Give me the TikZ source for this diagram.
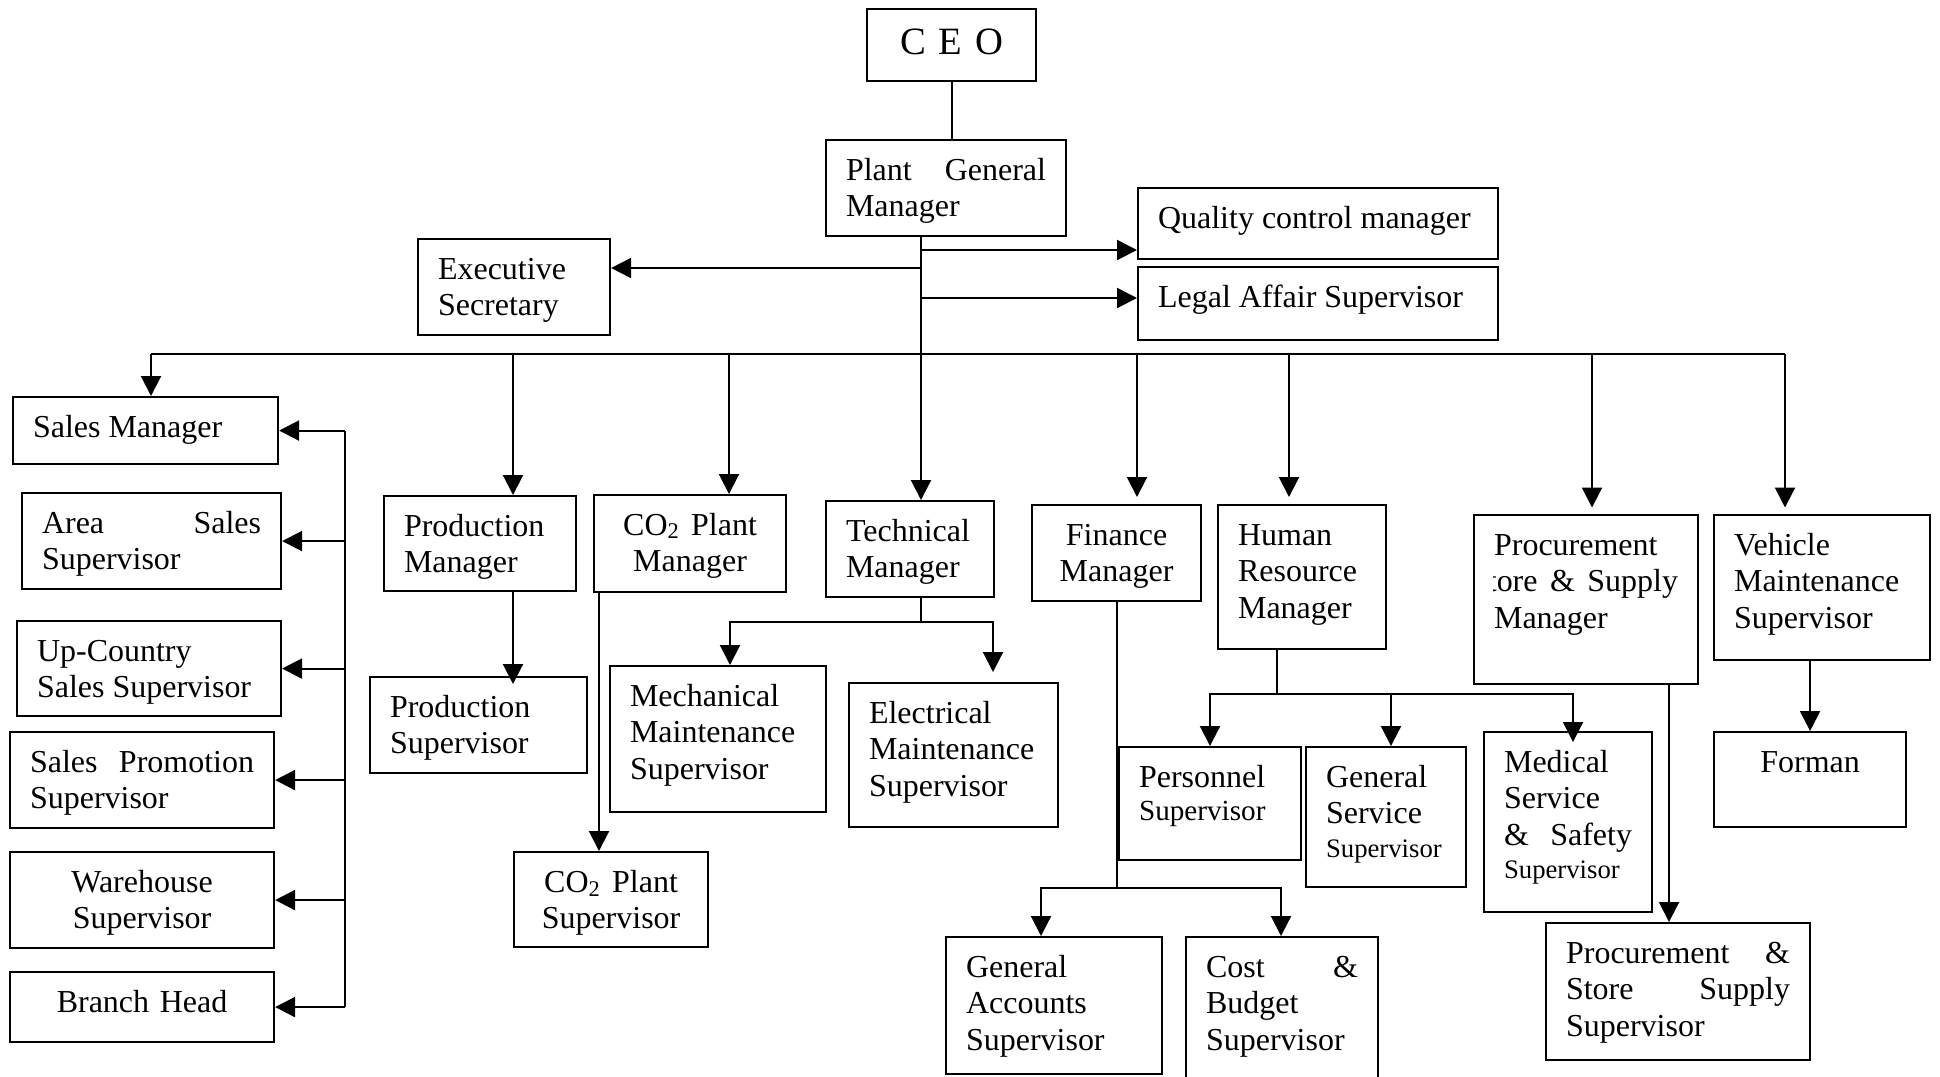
\documentclass[tikz,border=0pt]{standalone}
\usepackage{fontspec}
\setmainfont{Liberation Serif}
\usetikzlibrary{arrows.meta}
\hyphenpenalty=10000
\exhyphenpenalty=10000

\begin{document}
\begin{tikzpicture}[
      line width=0.6pt,
      >={Triangle[length=0.2cm, width=0.2cm]},
      post/.style 2 args={draw, anchor=north west, inner xsep=0.2cm, inner ysep=0.1cm,
                  text width={#1cm-0.4cm}, text height=0.30cm, text depth={#2cm-0.50cm},
                  align=justify, font=\fontsize{9.1}{10.5}\selectfont},
    ]
    \path[use as bounding box, fill=white] (0,0) rectangle (19.40,-10.76);

    % top management
    \node[post={1.69}{0.72}, align=center, text height=0.35cm, text depth=0.17cm,
          font=\fontsize{11}{13}\selectfont] (ceo) at (8.66,-0.08) {C E O};
    \node[post={2.40}{0.96}] (pgm) at (8.25,-1.39) {Plant General\linebreak Manager};
    \node[post={1.92}{0.96}] (exec) at (4.17,-2.38) {Executive\\Secretary};
    \node[post={3.60}{0.71}] (qcm) at (11.37,-1.87) {Quality control manager};
    \node[post={3.60}{0.73}] (legal) at (11.37,-2.66) {Legal Affair Supervisor};

    % sales column
    \node[post={2.65}{0.67}] (sales) at (0.12,-3.96) {Sales Manager};
    \node[post={2.59}{0.96}] (area) at (0.21,-4.92) {Area Sales\linebreak Supervisor};
    \node[post={2.64}{0.95}] (upc) at (0.16,-6.20) {Up-Country\\Sales Supervisor};
    \node[post={2.64}{0.96}] (promo) at (0.09,-7.31) {Sales Promotion\linebreak Supervisor};
    \node[post={2.64}{0.96}, align=center] (wh) at (0.09,-8.51) {Warehouse\\Supervisor};
    \node[post={2.64}{0.70}, align=center] (branch) at (0.09,-9.71) {Branch Head};

    % production, CO2 and technical
    \node[post={1.92}{0.95}] (prodm) at (3.83,-4.95) {Production\\Manager};
    \node[post={2.17}{0.96}] (prods) at (3.69,-6.76) {Production\\Supervisor};
    \node[post={1.92}{0.97}, align=center] (co2m) at (5.93,-4.94) {CO\textsubscript{2} Plant\\Manager};
    \node[post={1.94}{0.95}, align=center] (co2s) at (5.13,-8.51) {CO\textsubscript{2} Plant\\Supervisor};
    \node[post={1.68}{0.96}] (techm) at (8.25,-5.00) {Technical\\Manager};
    \node[post={2.16}{1.46}] (mech) at (6.09,-6.65) {Mechanical\\Maintenance\\Supervisor};
    \node[post={2.09}{1.44}] (elec) at (8.48,-6.82) {Electrical\\Maintenance\\Supervisor};

    % finance and human resources
    \node[post={1.69}{0.96}, align=center] (finm) at (10.31,-5.04) {Finance\\Manager};
    \node[post={2.16}{1.37}] (acct) at (9.45,-9.36) {General\\Accounts\\Supervisor};
    \node[post={1.92}{1.50}] (cost) at (11.85,-9.36) {Cost \&\linebreak Budget\\Supervisor};
    \node[post={1.68}{1.44}] (hrm) at (12.17,-5.04) {Human\\Resource\\Manager};
    \node[post={1.82}{1.13}] (pers) at (11.18,-7.46)
      {Personnel\\[-1.1pt]{\fontsize{8.3}{10}\selectfont Supervisor}};
    \node[post={1.60}{1.40}] (gens) at (13.05,-7.46)
      {General\\Service\\[-1.1pt]{\fontsize{7.6}{9}\selectfont Supervisor}};
    \node[post={1.68}{1.80}] (med) at (14.83,-7.31)
      {Medical\\Service\\\& Safety\vadjust{\vskip -1.1pt}\linebreak
       {\fontsize{7.6}{9}\selectfont Supervisor}};

    % procurement and vehicles
    \node[post={2.24}{1.69}] (procm) at (14.73,-5.14) {};
    \begin{scope}
      \clip ([xshift=0.2cm]procm.south west) rectangle (procm.north east);
      \node[post={2.24}{1.69}, draw=none] (procmtext) at (procm.north west)
        {Procurement\\\hspace*{-0.24cm}Store \& Supply\linebreak Manager};
    \end{scope}
    \node[post={2.64}{1.37}] (procs) at (15.45,-9.22)
      {Procurement \&\linebreak Store Supply\linebreak Supervisor};
    \node[post={2.16}{1.45}] (vehm) at (17.13,-5.14) {Vehicle\\Maintenance\\Supervisor};
    \node[post={1.92}{0.95}, align=center] (forman) at (17.13,-7.31) {Forman};

    % reporting lines
    \coordinate (stem) at ([xshift=0.96cm]pgm.south west);
    \coordinate (bus) at (0,-3.54);
    \draw (ceo) -- (ceo |- pgm.north);
    \draw[->] (stem) -- (stem |- techm.north);
    \draw[->] (stem |- 0,-2.68) -- (exec.east |- 0,-2.68);
    \draw[->] (stem |- 0,-2.50) -- (qcm.west |- 0,-2.50);
    \draw[->] (stem |- 0,-2.98) -- (legal.west |- 0,-2.98);

    \draw (1.51,0 |- bus) -- (17.85,0 |- bus);
    \foreach \x/\n/\s in {1.51/sales/0, 5.13/prodm/0, 7.29/co2m/0, 11.37/finm/0.07,
                          12.89/hrm/0.07, 15.92/procm/0.065, 17.85/vehm/0.065}
      \draw[->, shorten >=\s cm] (\x,0 |- bus) -- (\x,0 |- \n.north);

    \draw (3.45,0 |- sales.east) -- (3.45,0 |- branch.east);
    \foreach \n in {sales, area, upc, promo, wh, branch}
      \draw[->] (3.45,0 |- \n.east) -- (\n.east);

    \draw[->, shorten >=-0.08cm] (5.13,0 |- prodm.south) -- (5.13,0 |- prods.north);
    \draw[->] (5.99,0 |- co2m.south) -- (5.99,0 |- co2s.north);

    \draw[->] (stem |- techm.south) |- (7.30,-6.22) -- (7.30,0 |- mech.north);
    \draw[->, shorten >=0.1cm] (stem |- techm.south) |- (9.93,-6.22) -- (9.93,0 |- elec.north);

    \draw[->] (finm.south) |- (10.41,-8.88) -- (10.41,0 |- acct.north);
    \draw[->] (finm.south) |- (12.81,-8.88) -- (12.81,0 |- cost.north);

    \draw[->] (12.77,0 |- hrm.south) |- (12.10,-6.94) -- (12.10,0 |- pers.north);
    \draw[->] (12.77,0 |- hrm.south) |- (13.91,-6.94) -- (13.91,0 |- gens.north);
    \draw[->, shorten >=-0.11cm] (12.77,0 |- hrm.south) |- (15.73,-6.94) -- (15.73,0 |- med.north);

    \draw[->] (16.69,0 |- procm.south) -- (16.69,0 |- procs.north);
    \draw[->] (forman.north |- vehm.south) -- (forman.north);
  \end{tikzpicture}
\end{document}
